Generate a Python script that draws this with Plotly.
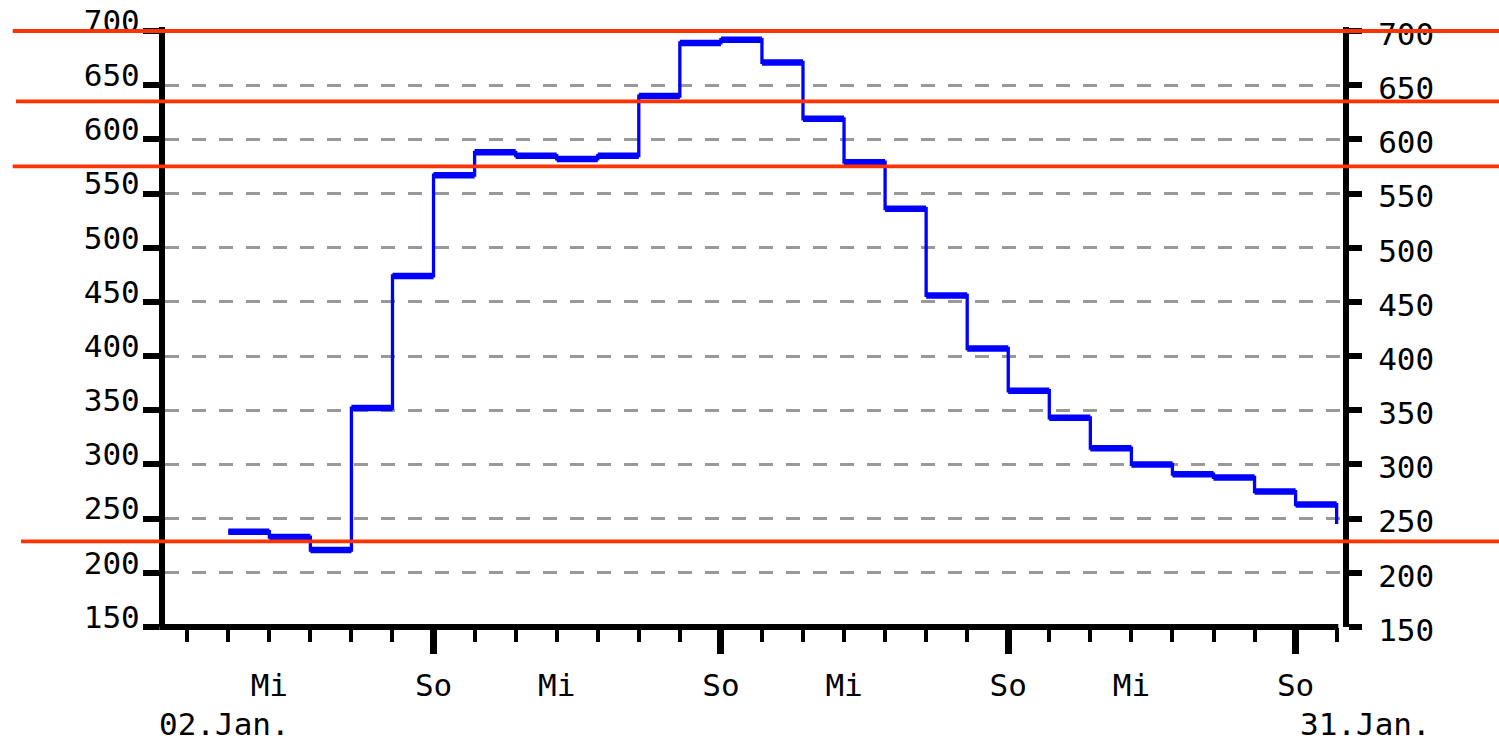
import plotly.graph_objects as go

# ---------------- data ----------------
days = ["2022-01-04", "2022-01-05", "2022-01-06", "2022-01-07", "2022-01-08",
        "2022-01-09", "2022-01-10", "2022-01-11", "2022-01-12", "2022-01-13",
        "2022-01-14", "2022-01-15", "2022-01-16", "2022-01-17", "2022-01-18",
        "2022-01-19", "2022-01-20", "2022-01-21", "2022-01-22", "2022-01-23",
        "2022-01-24", "2022-01-25", "2022-01-26", "2022-01-27", "2022-01-28",
        "2022-01-29", "2022-01-30", "2022-01-31"]
flow = [238, 233, 221, 352, 474, 567, 588, 585, 582, 585,
        640, 689, 692, 671, 619, 579, 536, 456, 407, 368,
        343, 315, 300, 291, 288, 275, 263, 245]

label_days = ["2022-01-05", "2022-01-09", "2022-01-12", "2022-01-16",
              "2022-01-19", "2022-01-23", "2022-01-26", "2022-01-30"]
label_text = ["Mi", "So", "Mi", "So", "Mi", "So", "Mi", "So"]
sunday_days = ["2022-01-09", "2022-01-16", "2022-01-23", "2022-01-30"]

limit_levels = [700, 635, 575, 229]
limit_start_px = [12.7, 16, 12.7, 21]

y_ticks = [150, 200, 250, 300, 350, 400, 450, 500, 550, 600, 650, 700]
y_range = [150, 703.7]
x_range = ["2022-01-02 11:00", "2022-01-31 05:28"]
start_label = "02.Jan."
end_label = "31.Jan."

# ---------------- layout geometry ----------------
W, H = 1499, 739
L, R, T, B = 165, 153, 27, 112
PW = W - L - R
PH = H - T - B

FONT = dict(family="DejaVu Sans Mono", size=31, color="black")
BLUE = "#0000ff"
RED = "#ff3300"

fig = go.Figure()

# thin step line (verticals)
fig.add_trace(go.Scatter(x=days, y=flow, mode="lines",
                         line=dict(color=BLUE, width=3.3, shape="hv"),
                         hoverinfo="skip", showlegend=False))
# thick horizontal segments
hx, hy = [], []
for i in range(len(days) - 1):
    hx += [days[i], days[i + 1], None]
    hy += [flow[i], flow[i], None]
fig.add_trace(go.Scatter(x=hx, y=hy, mode="lines",
                         line=dict(color=BLUE, width=6.5),
                         hoverinfo="skip", showlegend=False))
# dummy traces to activate overlay axes
fig.add_trace(go.Scatter(x=[None], y=[None], xaxis="x2", yaxis="y",
                         showlegend=False, hoverinfo="skip"))
fig.add_trace(go.Scatter(x=[None], y=[None], xaxis="x", yaxis="y2",
                         showlegend=False, hoverinfo="skip"))

shapes = []
# x axis line (ends before right axis)
shapes.append(dict(type="line", xref="paper", yref="paper",
                   x0=(159.3 - L) / PW, x1=(1338.3 - L) / PW, y0=0, y1=0,
                   line=dict(color="black", width=6), layer="above"))
# red limit lines
for lvl, sx in zip(limit_levels, limit_start_px):
    shapes.append(dict(type="line", xref="paper", yref="y",
                       x0=(sx - L) / PW, x1=(W + 5 - L) / PW, y0=lvl, y1=lvl,
                       line=dict(color=RED, width=3.8), layer="above"))

annotations = [
    dict(text=start_label, xref="paper", yref="paper",
         x=(156.7 - L) / PW, y=-(724 - (T + PH)) / PH,
         xanchor="left", yanchor="middle", showarrow=False, font=FONT),
    dict(text=end_label, xref="paper", yref="paper",
         x=(1433 - L) / PW, y=-(724 - (T + PH)) / PH,
         xanchor="right", yanchor="middle", showarrow=False, font=FONT),
]

fig.update_layout(
    width=W, height=H, autosize=False,
    margin=dict(l=L, r=R, t=T, b=B, pad=0, autoexpand=False),
    paper_bgcolor="white", plot_bgcolor="white",
    showlegend=False,
    shapes=shapes, annotations=annotations,
    xaxis=dict(type="date", range=x_range, domain=[0, 1], automargin=False,
               tickmode="array", tickvals=label_days, ticktext=label_text,
               ticks="outside", ticklen=14, tickwidth=4, tickcolor="black",
               tickfont=FONT, ticklabelstandoff=17,
               minor=dict(dtick=86400000, tick0="2022-01-03", ticks="outside",
                          ticklen=14, tickwidth=4, tickcolor="black",
                          showgrid=False),
               showgrid=False, zeroline=False, showline=False),
    xaxis2=dict(type="date", matches="x", overlaying="x", anchor="y",
                side="bottom", tickmode="array", tickvals=sunday_days,
                automargin=False,
                ticks="outside", ticklen=26, tickwidth=7, tickcolor="black",
                showticklabels=False, showgrid=False, zeroline=False,
                showline=False),
    yaxis=dict(range=y_range, tickmode="array", tickvals=y_ticks,
               automargin=False,
               ticks="outside", ticklen=16, tickwidth=6, tickcolor="black",
               tickfont=FONT, ticklabelshift=-10, ticklabelstandoff=-3,
               showline=True, linewidth=6, linecolor="black",
               showgrid=True, gridcolor="#999999", gridwidth=3,
               griddash="14px,13px", zeroline=False),
    yaxis2=dict(range=y_range, matches="y", overlaying="y", side="right",
                anchor="free", position=1, automargin=False,
                tickmode="array", tickvals=y_ticks,
                ticks="outside", ticklen=13, tickwidth=6, tickcolor="black",
                tickfont=FONT, ticklabelstandoff=10, ticklabelshift=3,
                showline=True, linewidth=6, linecolor="black",
                showgrid=False, zeroline=False),
)

fig.write_html("out.html",
               config={"displayModeBar": False},
               post_script="document.body.style.margin='0';"
                           "document.body.style.overflow='hidden';")
